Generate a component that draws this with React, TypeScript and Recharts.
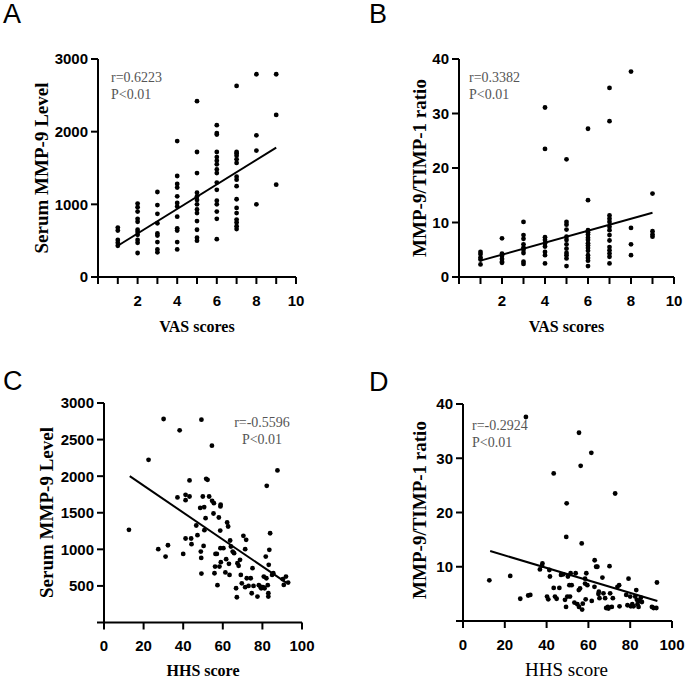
import { ReferenceLine, Scatter, ScatterChart, XAxis, YAxis } from 'recharts'

// A: VAS score vs serum MMP-9
const vasMmp9: [number, number][] = [
  [1, 680], [1, 640], [1, 510], [1, 470], [1, 430],
  [2, 1010], [2, 960], [2, 900], [2, 800], [2, 760], [2, 650], [2, 620], [2, 580], [2, 510], [2, 470], [2, 330],
  [3, 1170], [3, 990], [3, 870], [3, 740], [3, 600], [3, 570], [3, 480], [3, 380], [3, 340],
  [4, 1870], [4, 1390], [4, 1280], [4, 1230], [4, 1110], [4, 1020], [4, 970], [4, 830], [4, 670], [4, 640], [4, 480], [4, 380],
  [5, 2420], [5, 1720], [5, 1430], [5, 1160], [5, 1110], [5, 1060], [5, 1000], [5, 930], [5, 880], [5, 770], [5, 650], [5, 540], [5, 500],
  [6, 2090], [6, 1980], [6, 1960], [6, 1720], [6, 1650], [6, 1600], [6, 1550], [6, 1480], [6, 1430], [6, 1300], [6, 1200], [6, 1050], [6, 1000], [6, 900], [6, 800], [6, 520],
  [7, 2630], [7, 1720], [7, 1700], [7, 1670], [7, 1620], [7, 1570], [7, 1380], [7, 1340], [7, 1250], [7, 1070], [7, 950], [7, 880], [7, 790], [7, 750], [7, 700], [7, 660],
  [8, 2790], [8, 1950], [8, 1740], [8, 1000],
  [9, 2790], [9, 2230], [9, 1270],
]
const vasMmp9Fit: [number, number][] = [[1, 430], [9, 1780]]

// B: VAS score vs MMP-9/TIMP-1
const vasRatio: [number, number][] = [
  [1, 4.6], [1, 4.2], [1, 3.6], [1, 3.2], [1, 2.3],
  [2, 7.1], [2, 4.3], [2, 3.9], [2, 3.3], [2, 2.8], [2, 2.6],
  [3, 10.1], [3, 7.7], [3, 7.0], [3, 6.0], [3, 5.4], [3, 5.0], [3, 4.4], [3, 2.8], [3, 2.4],
  [4, 31.1], [4, 23.5], [4, 7.3], [4, 6.8], [4, 6.2], [4, 5.6], [4, 4.6], [4, 4.0], [4, 2.5],
  [5, 21.6], [5, 10.1], [5, 9.6], [5, 8.7], [5, 7.4], [5, 6.8], [5, 6.0], [5, 5.2], [5, 4.4], [5, 4.0], [5, 3.4], [5, 2.0],
  [6, 27.2], [6, 14.1], [6, 8.6], [6, 8.2], [6, 7.8], [6, 7.2], [6, 6.8], [6, 6.2], [6, 5.8], [6, 5.3], [6, 4.8], [6, 4.0], [6, 3.5], [6, 3.0], [6, 2.0],
  [7, 34.7], [7, 28.6], [7, 11.3], [7, 10.7], [7, 10.1], [7, 9.2], [7, 8.6], [7, 7.7], [7, 6.7], [7, 5.5], [7, 4.9], [7, 4.3], [7, 3.7], [7, 2.5],
  [8, 37.7], [8, 9.0], [8, 6.0], [8, 4.0],
  [9, 15.3], [9, 8.4], [9, 7.8], [9, 7.4],
]
const vasRatioFit: [number, number][] = [[1, 3.0], [9, 11.8]]

// C: HHS score vs serum MMP-9
const hhsMmp9: [number, number][] = [
  [12.6, 1266], [22.5, 2224], [27.4, 1002], [30.1, 2781], [31.1, 901], [32.3, 1056], [37.1, 1709], [38.2, 2626],
  [40, 937], [41.2, 1672], [41.2, 1745], [41.2, 1148], [43.2, 1722], [43.2, 1942], [44, 1148], [44.2, 1070],
  [46.6, 1326], [47.2, 1193], [48.6, 1567], [48.9, 970], [49.1, 883], [49.2, 668], [49.2, 2772], [49.9, 1722],
  [50.6, 1577], [50.7, 1262], [50.3, 1047], [51.3, 1426], [51.6, 1964], [52.3, 1950], [53.1, 1722], [54.5, 2417],
  [54.6, 1663], [55.5, 1631], [55.3, 1490], [55.8, 673], [56.3, 937], [56.1, 765], [57, 937], [57.3, 510],
  [58, 1435], [58.3, 765], [58.7, 1257], [58.8, 1586], [58.9, 1610], [58.8, 1016], [59, 825], [60.3, 1016],
  [61.3, 684], [61.7, 866], [62.2, 1367], [62.7, 1312], [63.1, 802], [63.4, 650], [63.7, 1121], [64.1, 1039],
  [65, 970], [65.7, 947], [66.7, 468], [67.1, 345], [67.4, 811], [68, 774], [68.7, 856], [69.1, 650],
  [69.6, 536], [70.4, 1185], [71.3, 1002], [71.8, 1130], [71.3, 483], [72.1, 605], [73, 500], [74.1, 605],
  [74.6, 400], [75, 742], [75.5, 500], [77.5, 354], [78.2, 510], [79, 490], [79.4, 468], [80.3, 483],
  [80.7, 627], [81.1, 468], [81.7, 901], [82, 605], [82.2, 1868], [82.7, 510], [83, 354], [83, 400],
  [83.2, 788], [83.5, 993], [83.9, 1220], [84.9, 650], [85.5, 673], [87.6, 2078], [90.3, 592], [90.8, 514],
  [91.9, 627], [93, 546],
]
const hhsMmp9Fit: [number, number][] = [[13, 2000], [92, 545]]

// D: HHS score vs MMP-9/TIMP-1
const hhsRatio: [number, number][] = [
  [12.6, 7.5], [22.6, 8.3], [27.4, 4.1], [31.2, 4.7], [32.2, 4.8], [30.1, 37.6], [36.8, 9.5], [37.8, 10.2],
  [38, 10.6], [40.2, 4.5], [40.8, 4.0], [41.3, 9.4], [41.6, 8.2], [43.4, 27.2], [43.4, 6.1], [44, 4.5],
  [44.8, 4.1], [46.1, 6.1], [46.9, 8.5], [48, 8.6], [48.8, 3.9], [49.3, 2.6], [49.4, 15.5], [49.6, 21.7],
  [49.9, 4.5], [50.2, 8.2], [50.9, 6.6], [51.2, 4.5], [51.5, 8.8], [52, 6.6], [53.3, 3.4], [53.9, 8.8],
  [54.7, 3.1], [55.5, 2.6], [55.4, 5.7], [55.5, 34.7], [56, 6.0], [56.3, 28.6], [56.8, 14.3], [57, 2.1],
  [57.3, 3.2], [58.4, 7.8], [58.4, 6.9], [58.7, 4.0], [59, 8.8], [59.5, 6.6], [61.4, 31.0], [61.6, 3.7],
  [62.9, 6.3], [63, 11.2], [63.7, 10.0], [64.3, 10.0], [64.8, 5.0], [65, 5.4], [65.3, 4.2], [66.7, 8.0],
  [67.2, 5.1], [68, 4.2], [68.5, 2.4], [69.3, 2.6], [69.6, 2.3], [70.1, 10.1], [70.4, 5.1], [71.2, 2.6],
  [71.7, 4.2], [72.8, 23.5], [73.9, 6.3], [74.7, 6.6], [74.9, 2.7], [78.1, 4.8], [78.7, 2.9], [79.2, 7.8],
  [80, 4.5], [80.3, 2.7], [81, 3.1], [81.6, 2.7], [82.4, 4.5], [82.9, 5.7], [83.2, 3.9], [83.5, 3.1],
  [84, 2.6], [84.5, 3.7], [85.1, 4.3], [85.6, 3.5], [90.4, 2.6], [91.2, 2.4], [92.5, 2.4], [92.8, 7.1],
]
const hhsRatioFit: [number, number][] = [[13, 12.9], [93, 3.7]]

const vasTicks = [0, 1, 2, 3, 4, 5, 6, 7, 8, 9, 10]
const hhsTicks = [0, 20, 40, 60, 80, 100]
const mmp9TicksA = [0, 1000, 2000, 3000]
const mmp9TicksC = [0, 500, 1000, 1500, 2000, 2500, 3000]
const ratioTicks = [0, 10, 20, 30, 40]

const sans = '"Liberation Sans", Arial, sans-serif'
const serif = '"Liberation Serif", "Times New Roman", serif'
const axisStroke = { stroke: '#000', strokeWidth: 2 }

const Dot = (p: any) => <circle cx={p.cx} cy={p.cy} r={2.4} fill="#000" />

const evenOnly = (v: number) => (v % 2 === 0 && v !== 0 ? String(v) : '')
const noZero = (v: number) => (v === 0 ? '' : String(v))

// bold GraphPad-like tick labels
const XTick = (fmt?: (v: number) => string) => (p: any) => (
  <text x={p.x} y={p.y} dy="0.72em" textAnchor="middle" fontFamily={sans} fontWeight={700} fontSize={15} fill="#000">
    {fmt ? fmt(p.payload.value) : p.payload.value}
  </text>
)
const YTick = (fmt?: (v: number) => string) => (p: any) => (
  <text x={p.x} y={p.y} dy="0.36em" textAnchor="end" fontFamily={sans} fontWeight={700} fontSize={15} fill="#000">
    {fmt ? fmt(p.payload.value) : p.payload.value}
  </text>
)

type PanelProps = {
  left: number
  top: number
  width: number
  height: number
  margin: { top: number; right: number; bottom: number; left: number }
  points: [number, number][]
  fit: [number, number][]
  xMax: number
  xTicks: number[]
  xFmt?: (v: number) => string
  yMax: number
  yTicks: number[]
  yFmt?: (v: number) => string
  letter: string
  letterAt: [number, number]
  xTitle: string
  xTitleAt: [number, number]
  xTitleBold: boolean
  xTitleSize: number
  yTitle: string
  yTitleAt: [number, number]
  notes: string[]
  notesAt: [number, number]
  notesAnchor: 'start' | 'middle'
}

function Panel(p: PanelProps) {
  const data = p.points.map(([x, y]) => ({ x, y }))
  const seg = p.fit.map(([x, y]) => ({ x, y }))
  return (
    <div style={{ position: 'absolute', left: p.left, top: p.top }}>
      <ScatterChart width={p.width} height={p.height} margin={p.margin}>
        <XAxis
          type="number"
          dataKey="x"
          domain={[0, p.xMax]}
          ticks={p.xTicks}
          interval={0}
          height={30}
          tick={XTick(p.xFmt)}
          tickSize={7}
          tickMargin={11}
          axisLine={axisStroke}
          tickLine={axisStroke}
        />
        <YAxis
          type="number"
          dataKey="y"
          domain={[0, p.yMax]}
          ticks={p.yTicks}
          interval={0}
          width={50}
          tick={YTick(p.yFmt)}
          tickSize={7}
          tickMargin={3}
          axisLine={axisStroke}
          tickLine={axisStroke}
        />
        <Scatter data={data} shape={Dot} isAnimationActive={false} />
        <ReferenceLine segment={seg} stroke="#000" strokeWidth={2} />
        <text x={p.letterAt[0]} y={p.letterAt[1]} fontFamily={sans} fontSize={27} fill="#000">
          {p.letter}
        </text>
        <text
          x={p.xTitleAt[0]}
          y={p.xTitleAt[1]}
          textAnchor="middle"
          fontFamily={serif}
          fontWeight={p.xTitleBold ? 700 : 400}
          fontSize={p.xTitleSize}
          fill="#000"
        >
          {p.xTitle}
        </text>
        <text
          x={p.yTitleAt[0]}
          y={p.yTitleAt[1]}
          transform={`rotate(-90 ${p.yTitleAt[0]} ${p.yTitleAt[1]})`}
          textAnchor="middle"
          fontFamily={serif}
          fontWeight={700}
          fontSize={19}
          fill="#000"
        >
          {p.yTitle}
        </text>
        {p.notes.map((n, i) => (
          <text
            key={n}
            x={p.notesAt[0]}
            y={p.notesAt[1] + i * 17}
            textAnchor={p.notesAnchor}
            fontFamily={serif}
            fontSize={14}
            fill="#555"
          >
            {n}
          </text>
        ))}
      </ScatterChart>
    </div>
  )
}

export default function App() {
  return (
    <div style={{ position: 'absolute', left: 0, top: 0, width: 685, height: 679, background: '#fff' }}>
      <Panel
        left={0}
        top={0}
        width={342}
        height={345}
        margin={{ top: 59, right: 46, bottom: 38, left: 48 }}
        points={vasMmp9}
        fit={vasMmp9Fit}
        xMax={10}
        xTicks={vasTicks}
        xFmt={evenOnly}
        yMax={3000}
        yTicks={mmp9TicksA}
        letter="A"
        letterAt={[3, 23]}
        xTitle="VAS scores"
        xTitleAt={[197, 332]}
        xTitleBold
        xTitleSize={16}
        yTitle="Serum MMP-9 Level"
        yTitleAt={[48, 168]}
        notes={['r=0.6223', 'P<0.01']}
        notesAt={[111, 82]}
        notesAnchor="start"
      />
      <Panel
        left={342}
        top={0}
        width={343}
        height={345}
        margin={{ top: 59, right: 11, bottom: 38, left: 67 }}
        points={vasRatio}
        fit={vasRatioFit}
        xMax={10}
        xTicks={vasTicks}
        xFmt={evenOnly}
        yMax={40}
        yTicks={ratioTicks}
        letter="B"
        letterAt={[27, 23]}
        xTitle="VAS scores"
        xTitleAt={[224.5, 332]}
        xTitleBold
        xTitleSize={16}
        yTitle="MMP-9/TIMP-1 ratio"
        yTitleAt={[84, 168]}
        notes={['r=0.3382', 'P<0.01']}
        notesAt={[127, 82]}
        notesAnchor="start"
      />
      <Panel
        left={0}
        top={330}
        width={342}
        height={349}
        margin={{ top: 73, right: 40, bottom: 26.5, left: 54 }}
        points={hhsMmp9}
        fit={hhsMmp9Fit}
        xMax={100}
        xTicks={hhsTicks}
        yMax={3000}
        yTicks={mmp9TicksC}
        yFmt={noZero}
        letter="C"
        letterAt={[3, 60]}
        xTitle="HHS score"
        xTitleAt={[203, 346]}
        xTitleBold
        xTitleSize={16}
        yTitle="Serum MMP-9 Level"
        yTitleAt={[53, 182.5]}
        notes={['r=-0.5596', 'P<0.01']}
        notesAt={[262, 97]}
        notesAnchor="middle"
      />
      <Panel
        left={342}
        top={330}
        width={343}
        height={349}
        margin={{ top: 74, right: 13, bottom: 28, left: 71 }}
        points={hhsRatio}
        fit={hhsRatioFit}
        xMax={100}
        xTicks={hhsTicks}
        yMax={40}
        yTicks={ratioTicks}
        yFmt={noZero}
        letter="D"
        letterAt={[27, 61]}
        xTitle="HHS score"
        xTitleAt={[224.5, 346]}
        xTitleBold={false}
        xTitleSize={19}
        yTitle="MMP-9/TIMP-1 ratio"
        yTitleAt={[84, 180]}
        notes={['r=-0.2924', 'P<0.01']}
        notesAt={[130, 100]}
        notesAnchor="start"
      />
    </div>
  )
}
